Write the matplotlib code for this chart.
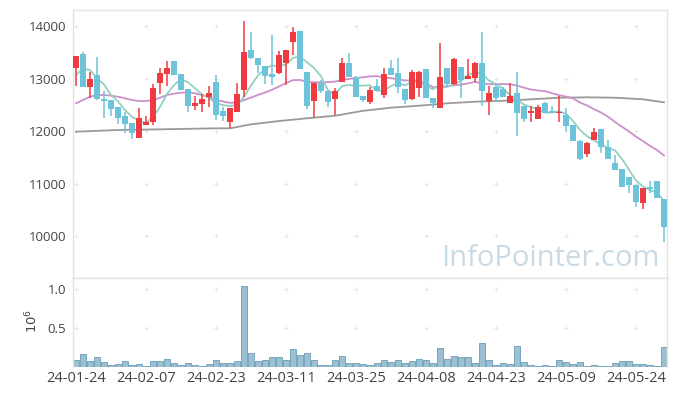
import numpy as np
import pandas as pd
import matplotlib
matplotlib.use("Agg")
import matplotlib.pyplot as plt

plt.rcParams['font.family'] = ['Open Sans', 'DejaVu Sans']

# ---------------- data ----------------
holidays = ['2024-02-09', '2024-02-12', '2024-03-01', '2024-04-10',
            '2024-05-01', '2024-05-06', '2024-05-15']
dates = pd.bdate_range('2024-01-24', '2024-05-30', freq='C', holidays=holidays)

opens = [13200, 13467, 12844, 13067, 12609, 12590, 12457, 12291, 12158, 11861,
         12114, 12177, 12920, 13086, 13333, 13086, 12800, 12482, 12514, 12653,
         12933, 12381, 12165, 12367, 12781, 13543, 13385, 13238, 13080, 13099,
         13289, 13701, 13905, 13118, 12577, 12908, 12762, 12604, 12927, 13289,
         13034, 12667, 12546, 12857, 12686, 13206, 13099, 12800, 12604, 12813,
         13181, 12623, 12432, 13194, 12895, 13225, 12990, 13015, 13289, 12577,
         12844, 12800, 12539, 12718, 12476, 12337, 12228, 12539, 12387, 12337,
         12305, 12114, 11815, 11562, 11828, 12032, 11689, 11384, 11270, 11118,
         10971, 10622, 10939, 11048, 10699]
highs = [13430, 13499, 13129, 13404, 12762, 12600, 12460, 12367, 12160, 12432,
         12286, 12890, 13206, 13333, 13340, 13090, 12800, 12667, 12699, 12863,
         13067, 12463, 12444, 12908, 14095, 13891, 13390, 13240, 13829, 13524,
         13545, 13987, 13905, 13120, 12910, 12971, 12765, 12825, 13396, 13480,
         13040, 12670, 12844, 12990, 13194, 13352, 13385, 12800, 13162, 13143,
         13180, 12625, 13670, 13195, 13396, 13226, 13371, 13320, 13880, 12863,
         12908, 12830, 12920, 13129, 12480, 12476, 12495, 12560, 12476, 12667,
         12432, 12115, 11820, 11796, 12051, 12035, 11828, 11543, 11270, 11120,
         10975, 10910, 11053, 11050, 10700]
lows = [12860, 12840, 12634, 12600, 12242, 12291, 12127, 11956, 11842, 11860,
        12110, 12114, 12699, 12857, 13060, 12780, 12356, 12400, 12367, 12451,
        12204, 12190, 12051, 12367, 12653, 13380, 13099, 12890, 12876, 13095,
        12876, 13448, 13175, 12419, 12272, 12718, 12463, 12305, 12925, 13030,
        12650, 12558, 12508, 12760, 12634, 13060, 12718, 12508, 12600, 12653,
        12620, 12432, 12430, 12844, 12880, 12634, 12985, 12939, 12482, 12305,
        12558, 12640, 12535, 11905, 12177, 12165, 12225, 12335, 12340, 12165,
        12006, 11805, 11455, 11499, 11825, 11575, 11460, 11255, 10930, 10813,
        10558, 10508, 10813, 10715, 9891]
closes = [13430, 12844, 12985, 12604, 12577, 12413, 12253, 12139, 11967, 12242,
          12177, 12813, 13099, 13206, 13067, 12781, 12482, 12539, 12609, 12724,
          12305, 12291, 12444, 12705, 13510, 13385, 13257, 13053, 13034, 13448,
          13543, 13891, 13181, 12482, 12908, 12762, 12546, 12762, 13289, 13034,
          12653, 12590, 12781, 12762, 13086, 13067, 12844, 12590, 13118, 13118,
          12623, 12527, 13034, 12895, 13371, 12971, 13053, 13289, 12767, 12718,
          12623, 12653, 12667, 12337, 12228, 12387, 12463, 12337, 12349, 12367,
          12101, 11815, 11461, 11766, 11981, 11689, 11467, 11257, 10939, 10971,
          10641, 10908, 10901, 10718, 10177]
volumes_m = [0.093, 0.166, 0.080, 0.128, 0.064, 0.029, 0.038, 0.077, 0.029, 0.038,
             0.017, 0.077, 0.077, 0.102, 0.051, 0.029, 0.051, 0.029, 0.013, 0.038,
             0.093, 0.051, 0.051, 0.077, 1.038, 0.179, 0.077, 0.093, 0.128, 0.128,
             0.093, 0.230, 0.153, 0.179, 0.093, 0.025, 0.025, 0.093, 0.140, 0.051,
             0.051, 0.038, 0.025, 0.051, 0.093, 0.064, 0.093, 0.051, 0.080, 0.102,
             0.093, 0.051, 0.243, 0.102, 0.140, 0.128, 0.128, 0.051, 0.306, 0.093,
             0.025, 0.051, 0.038, 0.268, 0.064, 0.025, 0.012, 0.025, 0.010, 0.090,
             0.064, 0.038, 0.064, 0.010, 0.025, 0.010, 0.010, 0.051, 0.077, 0.077,
             0.038, 0.038, 0.025, 0.015, 0.255]

# moving-average values before enough visible closes exist
ma5_head = [13067, 13190, 13162, 13004]
ma20_head = [12527, 12590, 12653, 12686, 12686, 12673, 12653, 12623, 12590, 12571,
             12571, 12590, 12634, 12686, 12711, 12730, 12737, 12718, 12686]
# long moving average at these candle indices
ma_long_idx = [0, 6, 12, 20, 22, 25, 29, 33, 37, 41, 45, 49, 53, 57, 61, 65, 69, 73, 77, 81, 84]
ma_long_val = [11987, 12019, 12032, 12051, 12051, 12127, 12190, 12242, 12291, 12384,
               12444, 12482, 12527, 12558, 12575, 12604, 12634, 12642, 12634, 12604, 12546]

# ---------------- style ----------------
UP = '#ef3a3f'
DOWN = '#6cc3da'
GRIDC = '#e4e4e4'
SPINE = '#e3e3e3'
TXT = '#444444'

n = len(closes)
x = np.arange(n)
o = np.array(opens); h = np.array(highs); l = np.array(lows); c = np.array(closes)

cs = pd.Series(closes, dtype=float)
ma5 = cs.rolling(5).mean().values
ma5[:4] = ma5_head
ma20 = cs.rolling(20).mean().values
ma20[:19] = ma20_head

fig = plt.figure(figsize=(6.77, 3.96), dpi=100)
W, H = 677, 396
L, R = 73, 667
ax = fig.add_axes([L / W, 1 - 278 / H, (R - L) / W, (278 - 10) / H])
axv = fig.add_axes([L / W, 1 - 367 / H, (R - L) / W, (367 - 278) / H], sharex=ax)

# grid crosses
xt = list(range(0, n, 10))
for yy in [10000, 11000, 12000, 13000, 14000]:
    ax.plot(xt, [yy] * len(xt), linestyle='none', marker='+', ms=3.5, mew=0.7, color=GRIDC, zorder=0)
for yy in [0.5, 1.0]:
    axv.plot(xt, [yy] * len(xt), linestyle='none', marker='+', ms=3.5, mew=0.7, color=GRIDC, zorder=0)

# moving averages
ax.plot(ma_long_idx, ma_long_val, color='#9a9a9a', lw=1.3, zorder=1)
ax.plot(x, ma20, color='#cc8fc8', lw=1.3, zorder=1)
ax.plot(x, ma5, color='#93d0c2', lw=1.3, zorder=1)

# candles
up = c >= o
colors = np.where(up, UP, DOWN)
ax.vlines(x, l, h, colors=colors, lw=1.1, zorder=2)
bottom = np.minimum(o, c)
height = np.maximum(np.abs(c - o), 8)
ax.bar(x, height, bottom=bottom, width=0.72, color=colors, linewidth=0, zorder=3)

# watermark
ax.text(660 / W, 1 - 265.5 / H, 'InfoPointer.com', transform=fig.transFigure,
        ha='right', va='baseline', fontsize=21, color='#c7dae5', zorder=0.5)

ax.set_xlim(-0.43, n - 1 + 0.43)
ax.set_ylim(9200, 14305)
ax.set_yticks([10000, 11000, 12000, 13000, 14000])
ax.tick_params(axis='y', length=0, labelsize=9.5, colors=TXT, pad=5)
ax.tick_params(axis='x', length=0, labelbottom=False)

# volume
axv.bar(x, volumes_m, width=0.95, color='#9bc0d1', edgecolor='#6b9cb8', linewidth=0.6, zorder=2)
axv.set_ylim(0, 1.14)
axv.set_yticks([0.5, 1.0])
axv.set_yticklabels(['0.5', '1.0'])
axv.set_xticks(xt)
axv.set_xticklabels([dates[i].strftime('%y-%m-%d') for i in xt])
axv.tick_params(axis='x', length=0, labelsize=10.5, colors=TXT, pad=3)
axv.tick_params(axis='y', length=0, labelsize=9.5, colors=TXT, pad=5)
fig.text(32 / W, 1 - 321 / H, r'$10^6$', rotation=90, ha='center', va='center',
         fontsize=9.5, color=TXT)

for a in (ax, axv):
    for s in a.spines.values():
        s.set_color(SPINE)
        s.set_linewidth(1.0)
axv.spines['bottom'].set_visible(False)

fig.savefig('out.png', dpi=100)
